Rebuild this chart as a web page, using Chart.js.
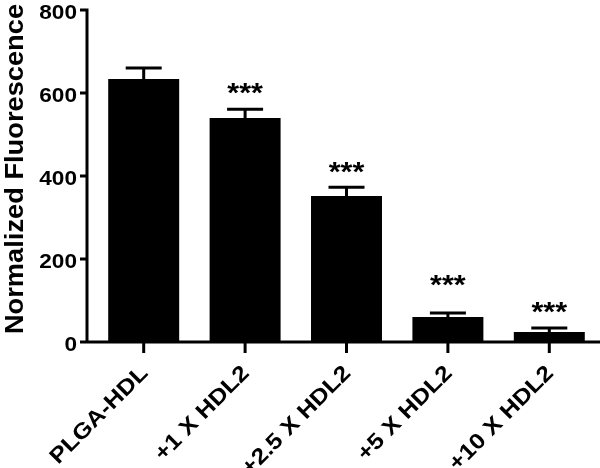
<!DOCTYPE html>
<html>
<head>
<meta charset="utf-8">
<script src="https://cdn.jsdelivr.net/npm/chart.js@4"></script>
<style>
  html, body { margin: 0; padding: 0; background: #fff; }
  #wrap { width: 600px; height: 468px; }
</style>
</head>
<body>
<div id="wrap"><canvas id="chart"></canvas></div>
<script>
const categories = ['PLGA-HDL', '+1 X HDL2', '+2.5 X HDL2', '+5 X HDL2', '+10 X HDL2'];
const means = [634, 540, 352, 60, 24];
const errors = [26, 21, 21, 10, 10];
const stars = ['', '***', '***', '***', '***'];
const starLevels = [null, 615, 425, 152, 87];
const yTicks = [0, 200, 400, 600, 800];
const yTitle = 'Normalized Fluorescence';

const FONT = '"Liberation Sans", Arial, Helvetica, sans-serif';

// the Prism export uses a slightly wide Helvetica, so stretch text along its run
function wideText(ctx, text, x, y, angle, align, baseline, stretch) {
  ctx.save();
  ctx.translate(x, y);
  ctx.rotate(angle);
  ctx.scale(stretch || 1.13, 1);
  ctx.textAlign = align;
  ctx.textBaseline = baseline;
  ctx.fillText(text, 0, 0);
  ctx.restore();
}

// GraphPad-style axes: y axis sits a little left of the first bar
const axesPlugin = {
  id: 'axesLines',
  afterDraw(chart) {
    const { ctx, chartArea, scales } = chart;
    const y = scales.y, x = scales.x;
    const axisX = chartArea.left - 6;
    const base = y.getPixelForValue(0);
    ctx.save();
    ctx.strokeStyle = '#000';
    ctx.lineWidth = 3;
    ctx.beginPath();
    ctx.moveTo(axisX, y.getPixelForValue(800) - 1.5);
    ctx.lineTo(axisX, base + 1.5);
    yTicks.forEach(v => {
      const py = y.getPixelForValue(v);
      ctx.moveTo(axisX - 7, py);
      ctx.lineTo(axisX, py);
    });
    ctx.moveTo(axisX, base);
    ctx.lineTo(chartArea.right, base);
    categories.forEach((c, i) => {
      const px = x.getPixelForValue(i);
      ctx.moveTo(px, base);
      ctx.lineTo(px, base + 11);
    });
    ctx.stroke();

    // tick labels and axis title
    ctx.fillStyle = '#000';
    ctx.font = 'bold 20px ' + FONT;
    y.ticks.forEach(t => {
      wideText(ctx, String(t.value), axisX - 10, y.getPixelForValue(t.value) + 9, 0, 'right', 'alphabetic');
    });
    ctx.font = 'bold 22px ' + FONT;
    categories.forEach((c, i) => {
      const px = x.getPixelForValue(i);
      wideText(ctx, c, px + 1, base + 28, -45 * Math.PI / 180, 'right', 'middle');
    });
    ctx.font = 'bold 25px ' + FONT;
    wideText(ctx, yTitle, 23, 169, -Math.PI / 2, 'center', 'alphabetic', 1.09);
    ctx.restore();
  }
};

const errorBarPlugin = {
  id: 'errorBars',
  afterDatasetsDraw(chart) {
    const { ctx, scales } = chart;
    const meta = chart.getDatasetMeta(0);
    ctx.save();
    ctx.strokeStyle = '#000';
    ctx.lineWidth = 3;
    meta.data.forEach((bar, i) => {
      const top = scales.y.getPixelForValue(means[i] + errors[i]);
      ctx.beginPath();
      ctx.moveTo(bar.x, bar.y);
      ctx.lineTo(bar.x, top);
      ctx.moveTo(bar.x - 18, top);
      ctx.lineTo(bar.x + 18, top);
      ctx.stroke();
    });
    ctx.fillStyle = '#000';
    ctx.font = 'bold 27px ' + FONT;
    meta.data.forEach((bar, i) => {
      if (!stars[i]) return;
      wideText(ctx, stars[i], bar.x, scales.y.getPixelForValue(starLevels[i]) + 15, 0, 'center', 'alphabetic');
    });
    ctx.restore();
  }
};

new Chart(document.getElementById('chart'), {
  type: 'bar',
  data: {
    labels: categories,
    datasets: [{
      data: means,
      backgroundColor: '#000',
      borderWidth: 0,
      barPercentage: 0.7,
      categoryPercentage: 1
    }]
  },
  options: {
    responsive: true,
    maintainAspectRatio: false,
    animation: false,
    layout: { padding: { top: 10, right: 0, left: 0, bottom: 0 } },
    plugins: { legend: { display: false }, tooltip: { enabled: false } },
    scales: {
      x: {
        grid: { display: false, drawTicks: false },
        border: { display: false },
        ticks: { display: false },
        afterFit(scale) {
          scale.height = 126;
          scale.paddingLeft = 0;
          scale.paddingRight = 0;
        }
      },
      y: {
        min: 0,
        max: 800,
        grid: { display: false, drawTicks: false },
        border: { display: false },
        ticks: { display: false, stepSize: 200 },
        afterFit(scale) {
          scale.width = 93;
          scale.paddingTop = 0;
          scale.paddingBottom = 0;
        }
      }
    }
  },
  plugins: [axesPlugin, errorBarPlugin]
});
</script>
</body>
</html>
